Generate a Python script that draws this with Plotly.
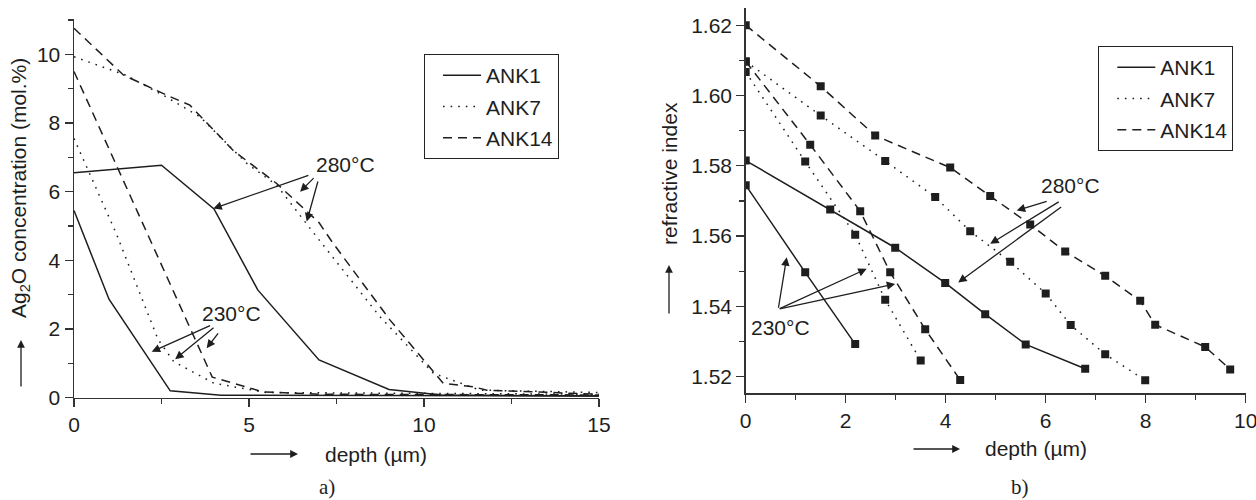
import plotly.graph_objects as go

# ---------------- Panel a): Ag2O concentration (mol.%) vs depth (um) ----------------
a_ank1_230_x = [0, 1.0, 2.75, 4.2, 15]
a_ank1_230_y = [5.45, 2.87, 0.2, 0.07, 0.05]
a_ank1_280_x = [0, 2.5, 4.0, 5.25, 7.0, 9.0, 10.5, 15]
a_ank1_280_y = [6.55, 6.77, 5.5, 3.14, 1.1, 0.24, 0.08, 0.05]
a_ank7_230_x = [0, 1.2, 2.4, 2.85, 4.0, 5.5, 15]
a_ank7_230_y = [7.55, 4.8, 1.7, 1.05, 0.42, 0.15, 0.1]
a_ank7_280_x = [0, 1.46, 2.55, 3.6, 4.93, 5.79, 6.93, 8.74, 10.27, 11.6, 15]
a_ank7_280_y = [9.93, 9.4, 8.81, 8.18, 6.83, 6.19, 4.69, 2.36, 0.71, 0.22, 0.15]
a_ank14_230_x = [0, 3.95, 5.4, 7.0, 15]
a_ank14_230_y = [9.5, 0.6, 0.17, 0.1, 0.08]
a_ank14_280_x = [0, 1.41, 2.65, 3.31, 4.55, 5.79, 7.0, 7.4, 9.03, 10.08, 10.55, 11.4, 11.8, 15]
a_ank14_280_y = [10.76, 9.4, 8.81, 8.52, 7.2, 6.24, 5.1, 4.5, 2.26, 1.0, 0.42, 0.32, 0.22, 0.1]

# ---------------- Panel b): refractive index vs depth (um) ----------------
b_ank1_230_x = [0, 1.19, 2.19]
b_ank1_230_y = [1.5745, 1.5497, 1.5293]
b_ank1_280_x = [0, 1.69, 2.99, 3.99, 4.79, 5.6, 6.79]
b_ank1_280_y = [1.5815, 1.5676, 1.5567, 1.5467, 1.5378, 1.5292, 1.5223]
b_ank7_230_x = [0, 1.19, 2.19, 2.79, 3.5]
b_ank7_230_y = [1.6067, 1.5812, 1.5604, 1.5419, 1.5246]
b_ank7_280_x = [0, 1.5, 2.79, 3.79, 4.49, 5.29, 6.0, 6.5, 7.19, 7.99]
b_ank7_280_y = [1.6097, 1.5943, 1.5814, 1.5711, 1.5614, 1.5527, 1.5437, 1.5347, 1.5264, 1.519]
b_ank14_230_x = [0, 1.29, 2.29, 2.89, 3.59, 4.29]
b_ank14_230_y = [1.6097, 1.586, 1.5671, 1.5497, 1.5335, 1.5191]
b_ank14_280_x = [0, 1.5, 2.59, 4.09, 4.89, 5.69, 6.39, 7.19, 7.89, 8.19, 9.19, 9.69]
b_ank14_280_y = [1.62, 1.6026, 1.5886, 1.5795, 1.5714, 1.5633, 1.5556, 1.5487, 1.5416, 1.5348, 1.5285, 1.5221]

series_names = ["ANK1", "ANK7", "ANK14"]
a_ticks_x = [0, 5, 10, 15]
a_ticks_y = [0, 2, 4, 6, 8, 10]
b_ticks_x = [0, 2, 4, 6, 8, 10]
b_ticks_y = [1.52, 1.54, 1.56, 1.58, 1.60, 1.62]

INK = "#1e1e1e"
FONT = "Liberation Sans, Arial, sans-serif"
DASH = {"ANK1": "solid", "ANK7": "1.6px,6px", "ANK14": "9px,6px"}

panel_a = {
    "ANK1": [(a_ank1_230_x, a_ank1_230_y), (a_ank1_280_x, a_ank1_280_y)],
    "ANK7": [(a_ank7_230_x, a_ank7_230_y), (a_ank7_280_x, a_ank7_280_y)],
    "ANK14": [(a_ank14_230_x, a_ank14_230_y), (a_ank14_280_x, a_ank14_280_y)],
}
panel_b = {
    "ANK1": [(b_ank1_230_x, b_ank1_230_y), (b_ank1_280_x, b_ank1_280_y)],
    "ANK7": [(b_ank7_230_x, b_ank7_230_y), (b_ank7_280_x, b_ank7_280_y)],
    "ANK14": [(b_ank14_230_x, b_ank14_230_y), (b_ank14_280_x, b_ank14_280_y)],
}

fig = go.Figure()

for name in series_names:
    for i, (xs, ys) in enumerate(panel_a[name]):
        fig.add_trace(go.Scatter(
            x=xs, y=ys, mode="lines", name=name,
            line=dict(color=INK, width=1.5, dash=DASH[name]),
            legend="legend", legendgroup="a" + name, showlegend=(i == 0),
            xaxis="x", yaxis="y", hoverinfo="skip"))

for name in series_names:
    for i, (xs, ys) in enumerate(panel_b[name]):
        fig.add_trace(go.Scatter(
            x=xs, y=ys, mode="lines", name=name,
            line=dict(color=INK, width=1.5, dash=DASH[name]),
            legend="legend2", legendgroup="b" + name, showlegend=(i == 0),
            xaxis="x2", yaxis="y2", hoverinfo="skip"))
        fig.add_trace(go.Scatter(
            x=xs, y=ys, mode="markers", name=name,
            marker=dict(symbol="square", size=8, color=INK),
            showlegend=False, xaxis="x2", yaxis="y2", hoverinfo="skip"))

axis_common = dict(
    showline=True, linecolor="#333", linewidth=1.5, mirror=False,
    showgrid=False, zeroline=False, ticks="outside", ticklen=8, tickwidth=1.3,
    tickcolor="#333", tickfont=dict(family=FONT, size=21, color=INK),
    minor=dict(ticks="outside", ticklen=5, tickwidth=1.3, tickcolor="#333", showgrid=False),
    automargin=False, ticklabeloverflow="allow",
)

# Figure fills the whole 1256x500 window (page body margin is removed below)
W, H = 1256, 500


def px(x):
    return x / W


def py(y):
    return (H - y) / H


legend_common = dict(xanchor="left", yanchor="top",
                     bordercolor="#222", borderwidth=1, bgcolor="white",
                     font=dict(family=FONT, size=21, color=INK), tracegroupgap=1,
                     itemwidth=38, indentation=13)
fig.update_layout(
    width=W, height=H,
    margin=dict(l=0, r=0, t=0, b=0, pad=0, autoexpand=False),
    paper_bgcolor="white", plot_bgcolor="white",
    font=dict(family=FONT, size=21, color=INK),
    xaxis=dict(axis_common, domain=[px(74), px(599)], range=[0, 15],
               tickvals=a_ticks_x, minor_dtick=2.5, minor_tick0=0,
               anchor="y"),
    yaxis=dict(axis_common, domain=[py(397.7), py(19)], range=[0, 11.03],
               tickvals=a_ticks_y, minor_dtick=1, minor_tick0=0, anchor="x"),
    xaxis2=dict(axis_common, domain=[px(745.7), px(1245.7)], range=[0, 10],
                tickvals=b_ticks_x, minor_dtick=1, minor_tick0=0, anchor="y2"),
    yaxis2=dict(axis_common, domain=[py(393.3), py(8.3)], range=[1.5153, 1.6248],
                tickvals=b_ticks_y, tickformat=".2f", minor_dtick=0.01, minor_tick0=1.5,
                anchor="x2"),
    legend=dict(legend_common, x=px(424), y=py(54)),
    legend2=dict(legend_common, x=px(1098.3), y=py(46)),
    showlegend=True,
)

ann = []
arrow_style = dict(showarrow=True, arrowhead=2, arrowsize=1.3, arrowwidth=1.3,
                   arrowcolor=INK, text="", xanchor="center", yanchor="middle")
txt = dict(showarrow=False, xanchor="center", yanchor="middle", font=dict(size=21))

# panel a temperature labels and arrows
ann.append(dict(txt, x=7.77, y=6.8, xref="x", yref="y", text="280°C"))
for (tx, ty, hx, hy) in [(6.74, 6.49, 3.98, 5.51), (6.89, 6.44, 6.46, 6.0), (6.98, 6.34, 6.65, 5.13)]:
    ann.append(dict(arrow_style, x=hx, y=hy, ax=tx, ay=ty, xref="x", yref="y", axref="x", ayref="y"))
ann.append(dict(txt, x=4.5, y=2.46, xref="x", yref="y", text="230°C"))
for (tx, ty, hx, hy) in [(3.93, 2.12, 2.22, 1.34), (4.03, 2.07, 2.89, 1.12), (4.15, 1.92, 3.79, 1.44)]:
    ann.append(dict(arrow_style, x=hx, y=hy, ax=tx, ay=ty, xref="x", yref="y", axref="x", ayref="y"))

# panel b temperature labels and arrows
ann.append(dict(txt, x=6.49, y=1.5743, xref="x2", yref="y2", text="280°C"))
for (tx, ty, hx, hy) in [(6.05, 1.57, 5.42, 1.5673), (6.29, 1.57, 4.89, 1.5578), (6.34, 1.5686, 4.25, 1.5468)]:
    ann.append(dict(arrow_style, x=hx, y=hy, ax=tx, ay=ty, xref="x2", yref="y2", axref="x2", ayref="y2"))
ann.append(dict(txt, x=0.69, y=1.5341, xref="x2", yref="y2", text="230°C"))
for (tx, ty, hx, hy) in [(0.65, 1.5392, 0.82, 1.554), (0.65, 1.5392, 2.42, 1.5507), (0.65, 1.5392, 2.99, 1.5464)]:
    ann.append(dict(arrow_style, x=hx, y=hy, ax=tx, ay=ty, xref="x2", yref="y2", axref="x2", ayref="y2"))

# axis titles
ann.append(dict(txt, x=px(20), y=py(188), xref="paper", yref="paper",
                text="Ag<sub>2</sub>O concentration (mol.%)", textangle=-90))
ann.append(dict(txt, x=px(669), y=py(174), xref="paper", yref="paper",
                text="refractive index", textangle=-90))
ann.append(dict(txt, x=px(376), y=py(454), xref="paper", yref="paper", text="depth (µm)"))
ann.append(dict(txt, x=px(1036), y=py(448), xref="paper", yref="paper", text="depth (µm)"))

# direction arrows next to axis titles
for (hx, hy, dx, dy) in [(21, 340, 0, 48), (669, 265, 0, 50), (298, 454, -49, 0), (960, 449, -48, 0)]:
    ann.append(dict(arrow_style, x=px(hx), y=py(hy), xref="paper", yref="paper",
                    ax=dx, ay=dy, axref="pixel", ayref="pixel", arrowsize=1.2))

# panel labels
serif = dict(family="Liberation Serif, Times New Roman, serif", size=21)
ann.append(dict(txt, x=px(327), y=py(487), xref="paper", yref="paper", text="a)", font=serif))
ann.append(dict(txt, x=px(1020), y=py(487), xref="paper", yref="paper", text="b)", font=serif))

fig.update_layout(annotations=ann)

fig.write_html(
    "out.html",
    config={"displayModeBar": False, "staticPlot": True},
    post_script="document.body.style.margin='0';document.body.style.overflow='hidden';",
)
